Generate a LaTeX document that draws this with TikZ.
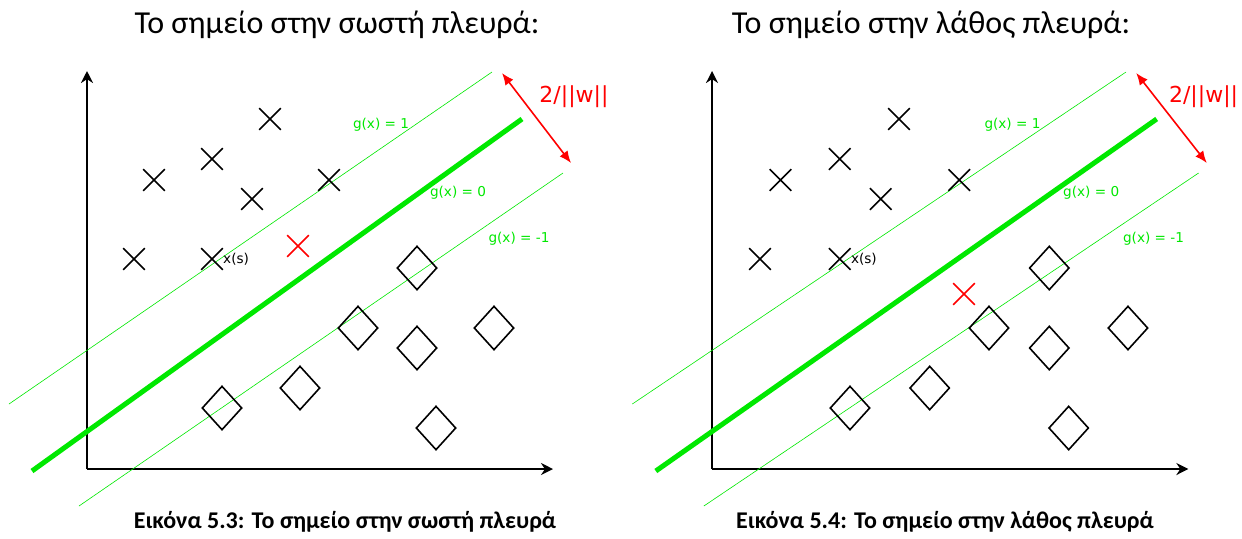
\documentclass[tikz,border=0pt]{standalone}
\usepackage{fontspec}
\setmainfont{Carlito}
\newfontfamily\plotfont{DejaVu Sans}
\usetikzlibrary{shapes.misc,shapes.geometric,arrows.meta}
\definecolor{svmgreen}{RGB}{0,232,0}
\tikzset{
  axis/.style={line width=1pt,-{Stealth[length=6pt,width=6pt]}},
  hyper/.style={svmgreen,line width=2.5pt},
  margin/.style={svmgreen,line width=0.3pt},
  xpoint/.style={draw,cross out,minimum size=10pt,inner sep=0pt,line width=0.8pt},
  dpoint/.style={draw,diamond,minimum width=20pt,minimum height=22pt,inner sep=0pt,line width=0.8pt},
  glabel/.style={svmgreen,font=\plotfont\fontsize{6.8}{8}\selectfont,inner sep=0pt},
  gap/.style={red,line width=0.8pt,{Latex[length=6pt,width=5pt]}-{Latex[length=6pt,width=5pt]}}
}

\begin{document}
\begin{tikzpicture}[x=0.5pt,y=-0.5pt]
  \useasboundingbox (0,0) rectangle (1242,538);
  \foreach \p/\dx/\sx/\rx/\ry/\wx/\tx/\cx/\side/\num in
    {a/0/1/298/246/574/337/345/σωστή/5.3, b/623.1/1.022/333.6/294/568/931/945/λάθος/5.4} {
    \node[font=\fontsize{16}{18}\selectfont] (\p-title) at (\tx,25) {Το σημείο στην \side\ πλευρά:};
    \node[font=\bfseries\fontsize{12}{14}\selectfont] (\p-cap) at (\cx,522) {Εικόνα \num: Το σημείο στην \side\ πλευρά};
    \begin{scope}[shift={(\dx,0)},xscale=\sx]
      % axes
      \coordinate (\p-o) at (87,469);
      \coordinate (\p-ytip) at (87,71);
      \coordinate (\p-xtip) at (553,469);
      \draw[axis] (\p-o) -- (\p-ytip);
      \draw[axis] (\p-o) -- (\p-xtip);
      % separating line and margins
      \coordinate (\p-h0s) at (32,471);
      \coordinate (\p-h0e) at (522,119);
      \coordinate (\p-h1s) at (9,404);
      \coordinate (\p-h1e) at (492,72);
      \coordinate (\p-h2s) at (79,506);
      \coordinate (\p-h2e) at (563,173);
      \draw[margin] (\p-h1s) -- (\p-h1e);
      \draw[margin] (\p-h2s) -- (\p-h2e);
      \draw[hyper] (\p-h0s) -- (\p-h0e);
      \node[glabel] (\p-g1) at (381,125) {g(x) = 1};
      \node[glabel] (\p-g0) at (458,193) {g(x) = 0};
      \node[glabel] (\p-gm) at (519,239) {g(x) = -1};
      % margin width
      \coordinate (\p-wa) at (502,73);
      \coordinate (\p-wb) at (571,163);
      \draw[gap] (\p-wa) -- (\p-wb);
      \node[red,font=\plotfont\fontsize{11}{13}\selectfont,inner sep=0pt] (\p-w) at (\wx,97) {2/||w||};
      % classes
      \foreach \u/\v [count=\i] in {270/119,212/159,154/180,252/199,329/180,134/259,212/259}
        \node[xpoint] (\p-c\i) at (\u,\v) {};
      \node[glabel,black,anchor=west] (\p-xs) at (\p-c7.east) {x(s)};
      \foreach \u/\v [count=\i] in {417/268,358/328,417/348,494/328,300/388,222/408,436/428}
        \node[dpoint] (\p-d\i) at (\u,\v) {};
      \node[xpoint,red] (\p-r) at (\rx,\ry) {};
    \end{scope}
  }
\end{tikzpicture}
\end{document}
